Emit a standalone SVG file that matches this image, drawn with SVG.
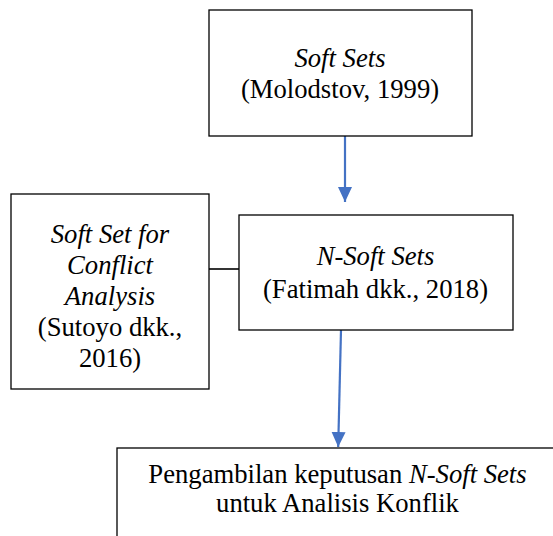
<svg xmlns="http://www.w3.org/2000/svg" width="553" height="536" viewBox="0 0 553 536">
<style>
.box{fill:#fff;stroke:#000;stroke-width:1.3}
.arr{stroke:#4472C4;stroke-width:2.2;fill:none}
.ln{stroke:#000;stroke-width:1.6;fill:none}
</style>
<defs>
<marker id="ah" markerUnits="userSpaceOnUse" markerWidth="16" markerHeight="16" viewBox="0 0 16 16" refX="15" refY="8" orient="auto">
<path d="M0,1 L15,8 L0,15 Z" fill="#4472C4"/>
</marker>
</defs>
<rect width="553" height="536" fill="#fff"/>
<g id="connectors">
<line class="ln" x1="209" y1="269" x2="239" y2="269"/>
<line class="arr" x1="345" y1="136" x2="345" y2="202" marker-end="url(#ah)"/>
<line class="arr" x1="341" y1="330" x2="338.2" y2="447" marker-end="url(#ah)"/>
</g>
<g id="softsets">
<rect class="box" x="209" y="10" width="263" height="126"/>
<text font-family="Liberation Serif" font-size="26.67" text-anchor="middle" font-style="italic" x="340" y="67">Soft Sets</text>
<text font-family="Liberation Serif" font-size="26.67" text-anchor="middle" x="340" y="98">(Molodstov, 1999)</text>
</g>
<g id="conflict">
<rect class="box" x="11" y="194" width="198" height="195"/>
<text font-family="Liberation Serif" font-size="26.67" text-anchor="middle" font-style="italic" x="110" y="243">Soft Set for</text>
<text font-family="Liberation Serif" font-size="26.67" text-anchor="middle" font-style="italic" x="110" y="274">Conflict</text>
<text font-family="Liberation Serif" font-size="26.67" text-anchor="middle" font-style="italic" x="110" y="305">Analysis</text>
<text font-family="Liberation Serif" font-size="26.67" text-anchor="middle" x="110" y="336">(Sutoyo dkk.,</text>
<text font-family="Liberation Serif" font-size="26.67" text-anchor="middle" x="110" y="367">2016)</text>
</g>
<g id="nsoftsets">
<rect class="box" x="239" y="215" width="274" height="115"/>
<text font-family="Liberation Serif" font-size="26.67" text-anchor="middle" font-style="italic" x="375.5" y="265">N-Soft Sets</text>
<text font-family="Liberation Serif" font-size="26.67" text-anchor="middle" x="375.5" y="298">(Fatimah dkk., 2018)</text>
</g>
<g id="decision">
<rect class="box" x="117" y="448" width="445" height="100"/>
<text font-family="Liberation Serif" font-size="26.67" text-anchor="middle" x="337.5" y="483">Pengambilan keputusan <tspan font-style="italic">N-Soft Sets</tspan></text>
<text font-family="Liberation Serif" font-size="26.67" text-anchor="middle" x="337.5" y="512">untuk Analisis Konflik</text>
</g>
</svg>
